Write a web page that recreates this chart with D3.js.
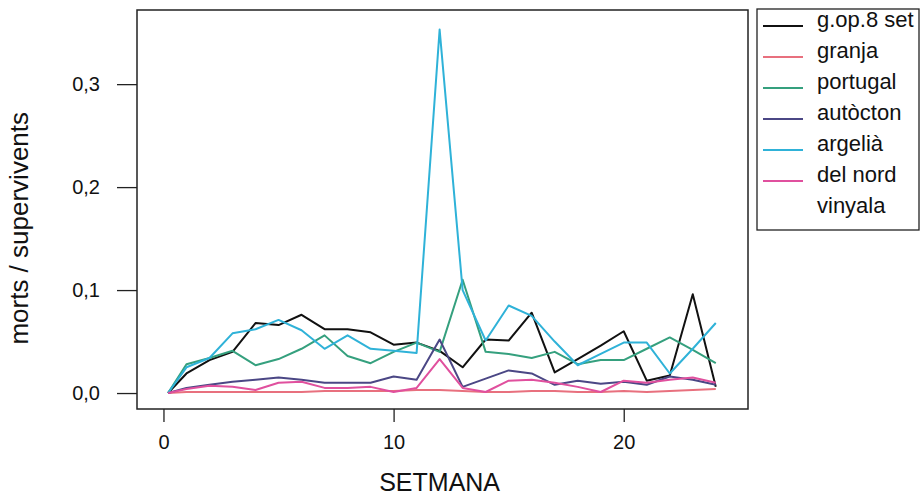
<!DOCTYPE html>
<html>
<head>
<meta charset="utf-8">
<script src="https://cdn.jsdelivr.net/npm/d3@7"></script>
<style>
  body { margin: 0; background: #fff; }
  text { font-family: "Liberation Sans", Arial, sans-serif; fill: #111; }
</style>
</head>
<body>
<div id="my_dataviz"></div>
<script>
// data
const weeks = [0.2, 1, 2, 3, 4, 5, 6, 7, 8, 9, 10, 11, 12, 13, 14, 15, 16, 17, 18, 19, 20, 21, 22, 23, 24];
const seriesNames = ["g.op.8 set", "granja", "portugal", "autòcton", "argelià", "del nord", "vinyala"];
const seriesColors = ["#111111", "#e8707e", "#35a07e", "#4b4785", "#2fb2d8", "#e0509e", "none"];
const gop8set = [0, 0.019, 0.032, 0.040, 0.068, 0.066, 0.076, 0.062, 0.062, 0.059, 0.047, 0.049, 0.041, 0.025, 0.052, 0.051, 0.078, 0.020, 0.033, 0.046, 0.060, 0.012, 0.017, 0.096, 0.006];
const granja = [0, 0.001, 0.001, 0.001, 0.001, 0.001, 0.001, 0.002, 0.002, 0.002, 0.002, 0.003, 0.003, 0.002, 0.001, 0.001, 0.002, 0.002, 0.001, 0.001, 0.002, 0.001, 0.002, 0.003, 0.004];
const portugal = [0, 0.028, 0.034, 0.041, 0.027, 0.033, 0.043, 0.056, 0.036, 0.029, 0.040, 0.049, 0.040, 0.110, 0.040, 0.038, 0.034, 0.040, 0.028, 0.032, 0.032, 0.043, 0.054, 0.042, 0.029];
const autocton = [0, 0.005, 0.008, 0.011, 0.013, 0.015, 0.013, 0.010, 0.010, 0.010, 0.016, 0.013, 0.052, 0.006, 0.014, 0.022, 0.019, 0.008, 0.012, 0.009, 0.011, 0.008, 0.016, 0.013, 0.008];
const argelia = [0, 0.025, 0.034, 0.058, 0.062, 0.071, 0.061, 0.043, 0.056, 0.043, 0.041, 0.039, 0.353, 0.100, 0.051, 0.085, 0.075, 0.050, 0.027, 0.038, 0.049, 0.049, 0.019, 0.043, 0.068];
const delnord = [0, 0.004, 0.007, 0.006, 0.003, 0.010, 0.011, 0.005, 0.005, 0.006, 0.001, 0.005, 0.033, 0.005, 0.001, 0.012, 0.013, 0.010, 0.006, 0.001, 0.012, 0.010, 0.013, 0.015, 0.010];
const vinyala = [];
const xTicks = [0, 10, 20];
const yTicks = [0, 0.1, 0.2, 0.3];

const allSeries = [gop8set, granja, portugal, autocton, argelia, delnord, vinyala];

// set the dimensions and margins of the graph
const margin = { top: 10, right: 173, bottom: 90, left: 137 },
    width = 921 - margin.left - margin.right,
    height = 499 - margin.top - margin.bottom;

const svg = d3.select("#my_dataviz")
    .append("svg")
    .attr("width", 921)
    .attr("height", 499)
    .append("g")
    .attr("transform", `translate(${margin.left}, ${margin.top})`);

const x = d3.scaleLinear().domain([-1.15, 25.4]).range([0, width]);
const y = d3.scaleLinear().domain([-0.0155, 0.372]).range([height, 0]);

// frame
svg.append("rect")
    .attr("width", width)
    .attr("height", height)
    .attr("fill", "none")
    .attr("stroke", "#222")
    .attr("stroke-width", 1.5);

// X axis
const xAxis = svg.append("g")
    .attr("transform", `translate(0, ${height})`)
    .call(d3.axisBottom(x).tickValues(xTicks).tickSize(13).tickPadding(13).tickFormat(d3.format("d")));
xAxis.select(".domain").remove();
xAxis.selectAll("line").attr("stroke", "#222").attr("stroke-width", 1.3);
xAxis.selectAll("text").style("font-size", "20px").attr("fill", "#111");

svg.append("text")
    .attr("text-anchor", "middle")
    .attr("x", x(12))
    .attr("y", height + 82)
    .style("font-size", "25px")
    .text("SETMANA");

// Y axis
const yAxis = svg.append("g")
    .call(d3.axisLeft(y).tickValues(yTicks).tickSize(20).tickPadding(17)
        .tickFormat(d => d3.format(".1f")(d).replace(".", ",")));
yAxis.select(".domain").remove();
yAxis.selectAll("line").attr("stroke", "#222").attr("stroke-width", 1.3);
yAxis.selectAll("text").style("font-size", "20px").attr("fill", "#111");

svg.append("text")
    .attr("text-anchor", "middle")
    .attr("transform", `translate(${-109}, ${y(0.16)}) rotate(-90)`)
    .style("font-size", "26px")
    .text("morts / supervivents");

// lines
const line = d3.line()
    .x((d, i) => x(weeks[i]))
    .y(d => y(d));

svg.selectAll("path.series")
    .data(allSeries)
    .join("path")
    .attr("class", "series")
    .attr("fill", "none")
    .attr("stroke", (d, i) => seriesColors[i])
    .attr("stroke-width", 2)
    .attr("stroke-linejoin", "round")
    .attr("d", d => d.length ? line(d) : null);

// legend
const legend = svg.append("g")
    .attr("transform", `translate(${width + 9}, -1)`);
legend.append("rect")
    .attr("width", 162)
    .attr("height", 221)
    .attr("fill", "#fff")
    .attr("stroke", "#222")
    .attr("stroke-width", 1.3);
const rows = legend.selectAll("g.row")
    .data(seriesNames)
    .join("g")
    .attr("class", "row")
    .attr("transform", (d, i) => `translate(0, ${17 + i * 31})`);
rows.append("line")
    .attr("x1", 6).attr("x2", 46)
    .attr("y1", 0).attr("y2", 0)
    .attr("stroke", (d, i) => seriesColors[i])
    .attr("stroke-width", 2);
rows.append("text")
    .attr("x", 60)
    .attr("y", 1)
    .style("font-size", "22px")
    .text(d => d);
</script>
</body>
</html>
